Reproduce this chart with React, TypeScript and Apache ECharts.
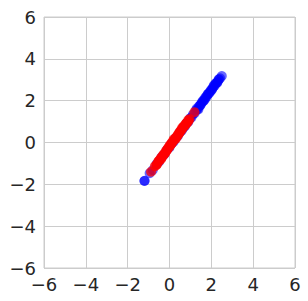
import React, { useEffect, useRef } from "react";
import * as echarts from "echarts";

const blueX = [-1.2, -1.19, -0.95, -0.8, -0.62, -0.5, -0.38, -0.25, -0.12, 0.0, 0.1, 0.2, 0.3, 0.4, 0.5, 0.58, 0.66, 0.74, 0.82, 0.9, 0.98, 1.05, 1.12, 1.2, 1.27, 1.34, 1.41, 1.48, 1.55, 1.62, 1.69, 1.76, 1.83, 1.9, 1.97, 2.04, 2.1, 2.17, 2.23, 2.3, 2.36, 2.42, 2.5,
  1.3, 1.45, 1.6, 1.75, 1.9, 2.05, 2.2, 2.35, 1.38, 1.52, 1.68, 1.82, 1.98, 2.12, 2.28];
const blueY = [-1.84, -1.83, -1.47, -1.32, -1.03, -0.92, -0.7, -0.57, -0.35, -0.24, -0.05, 0.04, 0.22, 0.31, 0.49, 0.56, 0.71, 0.78, 0.93, 0.99, 1.15, 1.2, 1.34, 1.4, 1.54, 1.59, 1.73, 1.78, 1.92, 1.97, 2.11, 2.16, 2.3, 2.35, 2.49, 2.54, 2.67, 2.72, 2.84, 2.9, 3.02, 3.07, 3.18,
  1.62, 1.76, 2.0, 2.2, 2.39, 2.58, 2.82, 3.0, 1.58, 1.86, 2.04, 2.3, 2.46, 2.73, 2.86];

const redX = [-0.88, -0.7, -0.62, -0.55, -0.48, -0.42, -0.36, -0.3, -0.24, -0.18, -0.12, -0.06, 0.0, 0.06, 0.12, 0.18, 0.24, 0.3, 0.36, 0.42, 0.48, 0.54, 0.6, 0.66, 0.72, 0.78, 0.84, 0.9, 0.96, 1.19,
  -0.6, -0.4, -0.2, 0.0, 0.2, 0.4, 0.6, 0.8, -0.5, -0.3, -0.1, 0.1, 0.3, 0.5, 0.7, 0.9];
const redY = [-1.4, -1.14, -1.07, -0.93, -0.87, -0.75, -0.7, -0.59, -0.54, -0.42, -0.37, -0.26, -0.2, -0.09, -0.04, 0.07, 0.13, 0.24, 0.29, 0.41, 0.46, 0.57, 0.62, 0.74, 0.79, 0.9, 0.95, 1.07, 1.12, 1.45,
  -1.04, -0.79, -0.5, -0.15, 0.15, 0.35, 0.69, 0.9, -0.86, -0.62, -0.31, -0.02, 0.18, 0.52, 0.8, 1.01];

const axisMin = -6;
const axisMax = 6;
const tickStep = 2;

const fmt = (v: number) => (v < 0 ? "\u2212" + Math.abs(v) : String(v));

export default function App() {
  const ref = useRef<HTMLDivElement>(null);
  useEffect(() => {
    if (!ref.current) return;
    const chart = echarts.init(ref.current, undefined, { renderer: "svg" });
    const axisCommon = {
      type: "value" as const,
      min: axisMin,
      max: axisMax,
      interval: tickStep,
      axisLine: { show: false },
      axisTick: { show: false },
      splitLine: { show: true, lineStyle: { color: "#cccccc", width: 1 } },
      axisLabel: {
        formatter: fmt,
        color: "#262626",
        fontFamily: "DejaVu Sans",
        fontSize: 18,
      },
    };
    chart.setOption({
      animation: false,
      backgroundColor: "#ffffff",
      grid: { left: 44, top: 17, width: 251, height: 251, show: true, borderColor: "#cccccc", borderWidth: 1 },
      xAxis: { ...axisCommon, axisLabel: { ...axisCommon.axisLabel, margin: 7 } },
      yAxis: { ...axisCommon, axisLabel: { ...axisCommon.axisLabel, margin: 8 } },
      series: [
        {
          type: "scatter",
          symbolSize: 10,
          data: blueX.map((x, i) => [x, blueY[i]]),
          itemStyle: { color: "#0000ff", opacity: 0.6 },
        },
        {
          type: "scatter",
          symbolSize: 10,
          data: redX.map((x, i) => [x, redY[i]]),
          itemStyle: { color: "#ff0000", opacity: 0.75 },
        },
      ],
    });
    return () => chart.dispose();
  }, []);
  return <div ref={ref} style={{ position: "fixed", left: 0, top: 0, width: 308, height: 301 }} />;
}
